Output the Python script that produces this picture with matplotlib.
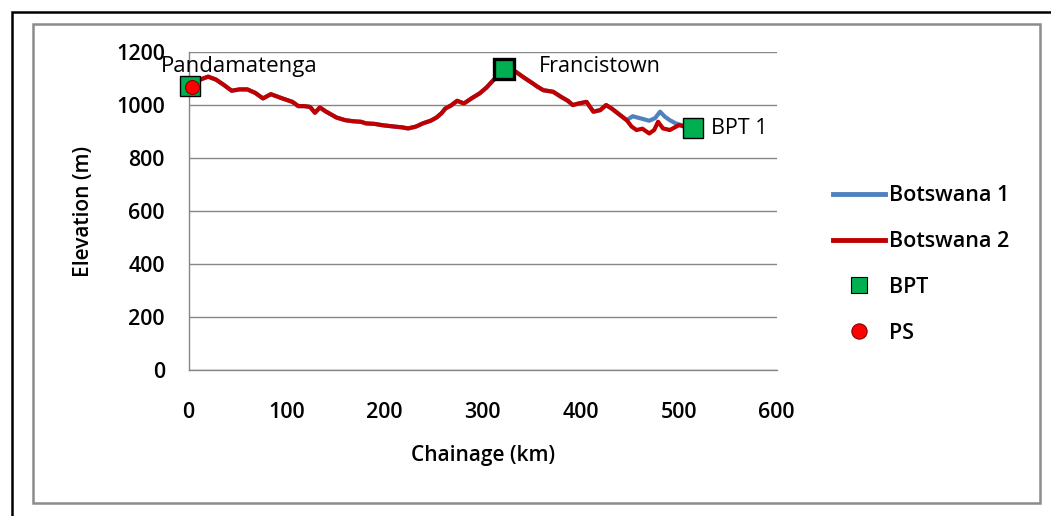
import matplotlib
matplotlib.use("Agg")
import matplotlib.pyplot as plt
from matplotlib.patches import Rectangle
from matplotlib.lines import Line2D

plt.rcParams["font.family"] = ["Open Sans", "DejaVu Sans"]

# =========================
# data
# =========================
chain_2 = [0, 5, 12, 20, 28, 36, 44, 52, 60, 68, 76, 84, 95, 106, 112, 118, 124,
           129, 134, 140, 151, 160, 168, 176, 181, 190, 198, 210, 218, 224, 232,
           239, 247, 253, 258, 262, 268, 274, 281, 289, 297, 304, 311, 318, 324,
           330, 334, 342, 351, 356, 362, 372, 380, 387, 392, 398, 406, 413, 420,
           426, 432, 440, 447, 452, 457, 463, 470, 475, 479, 484, 491, 496, 500, 505]
elev_2 = [1068, 1075, 1095, 1106, 1095, 1075, 1053, 1058, 1058, 1045, 1024, 1040,
          1025, 1011, 995, 995, 992, 970, 990, 975, 952, 942, 938, 936, 930, 928,
          923, 918, 915, 911, 918, 930, 940, 952, 968, 986, 998, 1015, 1005, 1025,
          1043, 1065, 1093, 1118, 1135, 1128, 1124, 1103, 1081, 1068, 1055, 1049,
          1030, 1015, 999, 1005, 1011, 974, 980, 999, 985, 962, 942, 918, 905, 910,
          892, 905, 936, 911, 905, 915, 923, 920]

# Botswana 1 follows Botswana 2 up to ~447 km, then splits off
split_km = 447
chain_1_tail = [453, 460, 470, 476, 481, 486, 491, 497, 503, 507]
elev_1_tail = [957, 950, 940, 950, 974, 955, 942, 930, 923, 912]

bpt_chain = [2, 322, 515]
bpt_elev = [1070, 1135, 911]
bpt_names = ["Pandamatenga", "Francistown", "BPT 1"]

ps_chain = [4]
ps_elev = [1066]

# build Botswana 1 from the shared part plus its own tail
n_shared = chain_2.index(split_km) + 1
chain_1 = chain_2[:n_shared] + chain_1_tail
elev_1 = elev_2[:n_shared] + elev_1_tail

BLUE = "#4F81BD"
RED = "#C00000"
GREEN = "#00B050"
GRID = "#868686"

# =========================
# figure
# =========================
fig = plt.figure(figsize=(10.51, 5.16), dpi=100)
W, H = 1051, 516

# outer black frame + inner grey frame
fig.add_artist(Rectangle((12 / W, -0.1), 1.2, 1 - 12 / H + 0.1,
                         transform=fig.transFigure, fill=False,
                         edgecolor="black", lw=1.8))
fig.add_artist(Rectangle((33 / W, 1 - 503 / H), (1040 - 33) / W, (503 - 24) / H,
                         transform=fig.transFigure, fill=False,
                         edgecolor="#8C8C8C", lw=1.8))

ax = fig.add_axes([188.5 / W, 1 - 370.3 / H, (776.7 - 188.5) / W, (370.3 - 51.7) / H])

ax.plot(chain_1, elev_1, color=BLUE, lw=3, label="Botswana 1", zorder=3)
ax.plot(chain_2, elev_2, color=RED, lw=3, label="Botswana 2", zorder=4)

edge_w = [1.0, 2.4, 1.0]
sizes = [14, 14, 15]
for x, y, ew, ms in zip(bpt_chain, bpt_elev, edge_w, sizes):
    ax.plot(x, y, "s", color=GREEN, mec="black", mew=ew, ms=ms,
            clip_on=False, zorder=5)
ax.plot(ps_chain, ps_elev, "o", color="#FF0000", mec="#8B0000", mew=0.8,
        ms=10, clip_on=False, zorder=6)

# point labels
ax.annotate(bpt_names[0], (bpt_chain[0], bpt_elev[0]), xytext=(-30, 20),
            textcoords="offset pixels", fontsize=16, va="center", ha="left")
ax.annotate(bpt_names[1], (bpt_chain[1], bpt_elev[1]), xytext=(35, 2),
            textcoords="offset pixels", fontsize=15.5, va="center", ha="left")
ax.annotate(bpt_names[2], (bpt_chain[2], bpt_elev[2]), xytext=(18, 0),
            textcoords="offset pixels", fontsize=15.5, va="center", ha="left")

ax.set_xlim(0, 600)
ax.set_ylim(0, 1200)
ax.set_xticks(range(0, 601, 100))
ax.set_yticks(range(0, 1201, 200))
ax.tick_params(length=0, labelsize=15.5)
ax.tick_params(axis="x", pad=23)
ax.tick_params(axis="y", pad=17)
for lbl in ax.get_xticklabels() + ax.get_yticklabels():
    lbl.set_fontweight("semibold")

ax.grid(axis="y", color=GRID, lw=1)
ax.set_axisbelow(True)
for s in ["top", "right"]:
    ax.spines[s].set_visible(False)
for s in ["left", "bottom"]:
    ax.spines[s].set_color(GRID)
    ax.spines[s].set_linewidth(1)

ax.set_xlabel("Chainage (km)", fontsize=15, fontweight="semibold", labelpad=16)
ax.set_ylabel("Elevation (m)", fontsize=15, fontweight="semibold", labelpad=16)

# legend on the right
handles = [
    Line2D([], [], color=BLUE, lw=3.5),
    Line2D([], [], color=RED, lw=3.5),
    Line2D([], [], ls="none", marker="s", color=GREEN, mec="black", mew=0.8, ms=11),
    Line2D([], [], ls="none", marker="o", color="#FF0000", mec="#8B0000", mew=0.8, ms=11),
]
fig.legend(handles, ["Botswana 1", "Botswana 2", "BPT", "PS"],
           loc="upper left", bbox_to_anchor=(814 / W, 1 - 166 / H),
           frameon=False, prop={"weight": "semibold", "size": 15.5},
           handlelength=2.4, handletextpad=0.2, labelspacing=1.15)

plt.savefig("out.png", dpi=100)
plt.close()
